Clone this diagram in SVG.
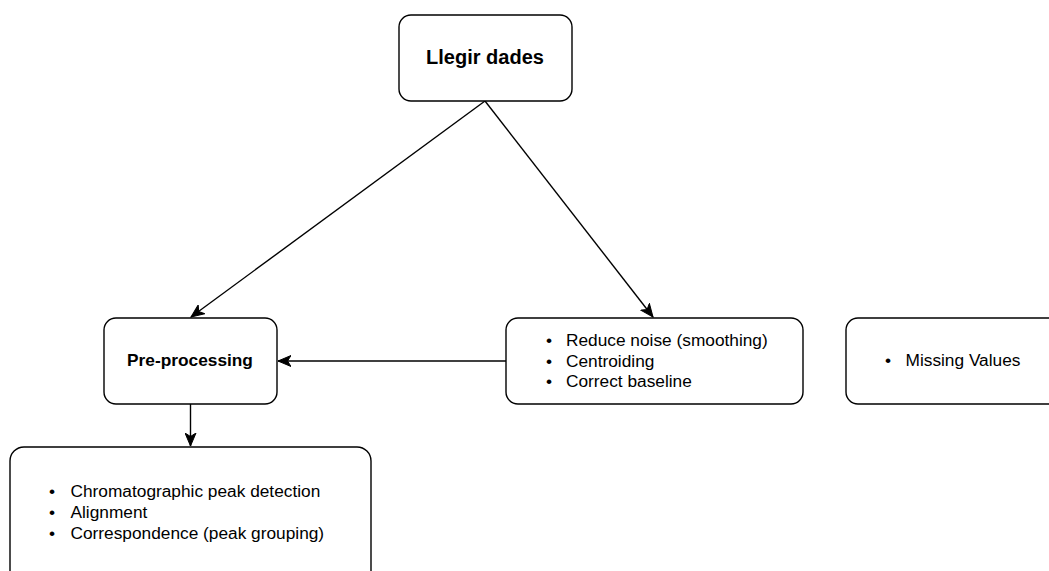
<svg xmlns="http://www.w3.org/2000/svg" width="1049" height="571" viewBox="0 0 1049 571">
  <defs>
    <style>
      .box { fill: #ffffff; stroke: #000000; stroke-width: 1.4; }
      .edge { fill: none; stroke: #000000; stroke-width: 1.4; }
      .t { font-family: "Liberation Sans", Arial, sans-serif; font-size: 17.3px; fill: #000000; }
      .b { font-weight: bold; }
    </style>
    <marker id="arrow" markerUnits="userSpaceOnUse" markerWidth="14" markerHeight="12" viewBox="0 0 14 12" refX="13" refY="6" orient="auto">
      <path d="M0,0.5 L13,6 L0,11.5 L3.5,6 Z" fill="#000000" stroke="#000000" stroke-width="1"/>
    </marker>
  </defs>
  <rect width="1049" height="571" fill="#ffffff"/>

  <g id="connectors">
    <line class="edge" x1="485" y1="101" x2="191" y2="317" marker-end="url(#arrow)"/>
    <line class="edge" x1="485" y1="101" x2="653" y2="317" marker-end="url(#arrow)"/>
    <line class="edge" x1="506" y1="361" x2="278" y2="361" marker-end="url(#arrow)"/>
    <line class="edge" x1="190.5" y1="404" x2="190.5" y2="446" marker-end="url(#arrow)"/>
  </g>

  <g id="llegir-dades">
    <rect class="box" x="399" y="15" width="173" height="86" rx="12"/>
    <text class="t b" x="485" y="64" text-anchor="middle" style="font-size:20px">Llegir dades</text>
  </g>

  <g id="pre-processing">
    <rect class="box" x="104" y="318" width="173" height="86" rx="12"/>
    <text class="t b" x="190" y="366" text-anchor="middle">Pre-processing</text>
  </g>

  <g id="preproc-steps">
    <rect class="box" x="506" y="318" width="297" height="86" rx="12"/>
    <text class="t" x="546" y="346">•</text>
    <text class="t" x="566" y="346">Reduce noise (smoothing)</text>
    <text class="t" x="546" y="366.5">•</text>
    <text class="t" x="566" y="366.5">Centroiding</text>
    <text class="t" x="546" y="387">•</text>
    <text class="t" x="566" y="387">Correct baseline</text>
  </g>

  <g id="missing-values">
    <rect class="box" x="846" y="318" width="297" height="86" rx="12"/>
    <text class="t" x="885" y="366">•</text>
    <text class="t" x="905.5" y="366">Missing Values</text>
  </g>

  <g id="peak-steps">
    <rect class="box" x="10" y="447" width="361" height="170" rx="14"/>
    <text class="t" x="49" y="497">•</text>
    <text class="t" x="70.5" y="497">Chromatographic peak detection</text>
    <text class="t" x="49" y="518">•</text>
    <text class="t" x="70.5" y="518">Alignment</text>
    <text class="t" x="49" y="539">•</text>
    <text class="t" x="70.5" y="539">Correspondence (peak grouping)</text>
  </g>
</svg>
